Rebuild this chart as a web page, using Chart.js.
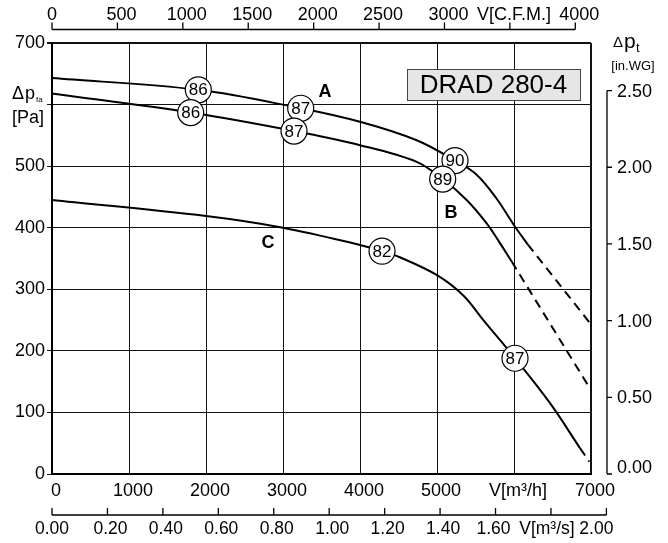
<!DOCTYPE html>
<html><head><meta charset="utf-8">
<script src="https://cdn.jsdelivr.net/npm/chart.js@4.4.0/dist/chart.umd.min.js"></script>
<style>html,body{margin:0;padding:0;background:#fff;}#wrap{width:668px;height:543px;}</style>
</head><body><div id="wrap"><canvas id="c" width="668" height="543"></canvas></div>
<script>
// ---- data ----
const modelName = 'DRAD 280-4';
const xTicks = [0, 1000, 2000, 3000, 4000, 5000, 6000, 7000];
const yTicks = [0, 100, 200, 300, 400, 500, 600, 700];
const cfmTicks = [0, 500, 1000, 1500, 2000, 2500, 3000, 3500, 4000];
const m3sTicks = [0, 0.2, 0.4, 0.6, 0.8, 1.0, 1.2, 1.4, 1.6, 1.8, 2.0];
const inwgTicks = [0, 0.5, 1.0, 1.5, 2.0, 2.5];

const flowA = [0, 1900, 3230, 4000, 4736, 5234, 5515, 5775, 6000, 6178];
const pressA = [643, 624, 594, 572, 542, 509, 486, 447, 404, 373];
const flowAExt = [6178, 6987];
const pressAExt = [373, 245];

const flowB = [0, 1801, 3143, 4000, 4736, 5074, 5385, 5645, 5818, 5970];
const pressB = [618, 587, 557, 534, 507, 479, 445, 407, 375, 345];
const flowBExt = [5970, 6987];
const pressBExt = [345, 139];

const flowC = [0, 2000, 3000, 4000, 4286, 4519, 5000, 5342, 5602, 6013, 6468, 6857];
const pressC = [445, 419, 400, 372, 362, 352, 323, 290, 250, 188, 115, 42];
const flowCExt = [6857, 6978];
const pressCExt = [42, 20];

const markFlow = [1900, 3230, 5234, 1801, 3143, 5074, 4286, 6013];
const markPress = [624, 594, 509, 587, 557, 479, 362, 188];
const markText = ['86', '87', '90', '86', '87', '89', '82', '87'];

const letterFlow = [3545, 5182, 2805];
const letterPress = [620, 424, 375];
const letterText = ['A', 'B', 'C'];

const boxFlow = [4610, 6857];
const boxPress = [657, 606];

// unit conversions
const CFM_TO_M3H = 1.69901;
const M3S_TO_M3H = 3600;
const INWG_TO_PA = 249.089;

// ---- helpers ----
const FONT = '"Liberation Sans", Arial, Helvetica, sans-serif';
const pts = (xs, ys) => xs.map((v, i) => ({x: v, y: ys[i]}));
const curve = (xs, ys, dashed) => ({
  data: pts(xs, ys), borderColor: '#000', borderWidth: 2, pointRadius: 0,
  fill: false, order: 1, borderDash: dashed ? [9, 6] : [],
  cubicInterpolationMode: 'default', tension: dashed ? 0 : 0.35
});

const extras = {
  id: 'extras',
  beforeDatasetsDraw(chart) {
    const {ctx, scales: {x, y}} = chart;
    const bx0 = x.getPixelForValue(boxFlow[0]), bx1 = x.getPixelForValue(boxFlow[1]);
    const by0 = y.getPixelForValue(boxPress[0]), by1 = y.getPixelForValue(boxPress[1]);
    ctx.save();
    ctx.fillStyle = '#e6e6e6';
    ctx.fillRect(bx0, by0, bx1 - bx0, by1 - by0);
    ctx.strokeStyle = '#444'; ctx.lineWidth = 1;
    ctx.strokeRect(Math.round(bx0) + 0.5, Math.round(by0) + 0.5, Math.round(bx1 - bx0), Math.round(by1 - by0));
    ctx.fillStyle = '#000';
    ctx.font = '26px ' + FONT; ctx.textAlign = 'center'; ctx.textBaseline = 'middle';
    ctx.fillText(modelName, (bx0 + bx1) / 2, (by0 + by1) / 2 + 1);
    ctx.restore();
  },
  afterDatasetsDraw(chart) {
    const {ctx, chartArea: ca, scales: {x, y}} = chart;
    ctx.save();
    ctx.fillStyle = '#000'; ctx.strokeStyle = '#000';
    // efficiency numbers in circles
    const meta = chart.getDatasetMeta(0);
    ctx.font = '17px ' + FONT; ctx.textAlign = 'center'; ctx.textBaseline = 'middle';
    meta.data.forEach((p, i) => ctx.fillText(markText[i], p.x, p.y + 1));
    // curve letters
    ctx.font = 'bold 18px ' + FONT;
    letterText.forEach((t, i) => ctx.fillText(t, x.getPixelForValue(letterFlow[i]), y.getPixelForValue(letterPress[i])));

    ctx.lineWidth = 1.3;
    ctx.font = '18px ' + FONT;
    // top CFM axis
    const ty = ca.top - 13.5;
    ctx.beginPath();
    ctx.moveTo(x.getPixelForValue(cfmTicks[0] * CFM_TO_M3H), ty);
    ctx.lineTo(x.getPixelForValue(cfmTicks[cfmTicks.length - 1] * CFM_TO_M3H), ty);
    cfmTicks.forEach(v => { const px = x.getPixelForValue(v * CFM_TO_M3H); ctx.moveTo(px, ty); ctx.lineTo(px, ty - 7); });
    ctx.stroke();
    ctx.textBaseline = 'middle'; ctx.textAlign = 'center';
    cfmTicks.forEach(v => {
      const px = x.getPixelForValue(v * CFM_TO_M3H);
      const lbl = v === 3500 ? 'V[C.F.M.]' : String(v);
      ctx.fillText(lbl, px + (v === 0 ? 0 : 4), 15);
    });
    // bottom m3/s axis
    const by = ca.bottom + 41;
    ctx.beginPath();
    ctx.moveTo(x.getPixelForValue(m3sTicks[0] * M3S_TO_M3H), by);
    ctx.lineTo(x.getPixelForValue(m3sTicks[m3sTicks.length - 1] * M3S_TO_M3H), by);
    m3sTicks.forEach(v => { const px = x.getPixelForValue(v * M3S_TO_M3H); ctx.moveTo(px, by); ctx.lineTo(px, by - 7); });
    ctx.stroke();
    ctx.font = '17.5px ' + FONT;
    m3sTicks.forEach((v, i) => {
      const px = x.getPixelForValue(v * M3S_TO_M3H);
      let lbl = v.toFixed(2), dx = i === 0 ? 0 : 3;
      if (i === m3sTicks.length - 3) { dx = -2; }
      if (i === m3sTicks.length - 2) { lbl = 'V[m³/s]'; dx = -4; }
      if (i === m3sTicks.length - 1) { dx = -10; }
      ctx.fillText(lbl, px + dx, by + 14);
    });
    // right in.WG axis
    ctx.font = '18px ' + FONT;
    const rx = ca.right + 16;
    const yTop = y.getPixelForValue(inwgTicks[inwgTicks.length - 1] * INWG_TO_PA);
    const yBot = y.getPixelForValue(inwgTicks[0] * INWG_TO_PA);
    ctx.beginPath();
    ctx.moveTo(rx, yTop); ctx.lineTo(rx, yBot);
    inwgTicks.forEach(v => { const py = y.getPixelForValue(v * INWG_TO_PA); ctx.moveTo(rx, py); ctx.lineTo(rx + 5, py); });
    ctx.stroke();
    ctx.textAlign = 'left';
    inwgTicks.forEach((v, i) => {
      const py = y.getPixelForValue(v * INWG_TO_PA);
      ctx.fillText(v.toFixed(2), rx + 10, py + (i === 0 ? -6 : 1));
    });
    // right title
    ctx.textAlign = 'left'; ctx.textBaseline = 'alphabetic';
    ctx.font = '15px ' + FONT; ctx.fillText('Δ', 613, 47);
    ctx.font = '21px ' + FONT; ctx.fillText('p', 624, 48);
    ctx.font = '13px ' + FONT; ctx.fillText('t', 636, 52);
    ctx.textAlign = 'center'; ctx.textBaseline = 'middle';
    ctx.font = '13px ' + FONT; ctx.fillText('[in.WG]', 633, 66);
    // left title
    ctx.textAlign = 'left'; ctx.textBaseline = 'alphabetic';
    ctx.font = '18px ' + FONT; ctx.fillText('Δ', 12, 99);
    ctx.fillText('p', 25, 99);
    ctx.font = '8px ' + FONT; ctx.fillText('fa', 36, 102);
    ctx.textBaseline = 'middle';
    ctx.font = '18px ' + FONT; ctx.fillText('[Pa]', 12, 118);
    ctx.restore();
  }
};

Chart.defaults.font.family = FONT;
Chart.defaults.color = '#000';

new Chart(document.getElementById('c'), {
  type: 'line',
  data: {
    datasets: [
      { data: pts(markFlow, markPress), showLine: false, pointRadius: 13, pointHoverRadius: 13,
        pointBackgroundColor: '#fff', pointBorderColor: '#000', pointBorderWidth: 1.2, order: 0 },
      curve(flowA, pressA, false), curve(flowB, pressB, false), curve(flowC, pressC, false),
      curve(flowAExt, pressAExt, true), curve(flowBExt, pressBExt, true), curve(flowCExt, pressCExt, true)
    ]
  },
  options: {
    responsive: false, devicePixelRatio: 1, animation: false, events: [],
    layout: { padding: { top: 43, right: 77, left: 0, bottom: 0 } },
    plugins: { legend: { display: false }, tooltip: { enabled: false } },
    scales: {
      x: {
        type: 'linear', min: xTicks[0], max: xTicks[xTicks.length - 1],
        afterBuildTicks: s => { s.ticks = xTicks.map(v => ({value: v})); },
        afterFit: s => { s.height = 69; },
        ticks: { font: { size: 18 }, padding: 6, labelOffset: 4, maxRotation: 0, autoSkip: false,
          callback: v => v === 6000 ? 'V[m³/h]' : String(v) },
        grid: { color: '#111', lineWidth: c => (c.tick && c.tick.value === 7000 ? 2 : 1), drawTicks: false },
        border: { display: true, color: '#000', width: 2 }
      },
      y: {
        type: 'linear', min: yTicks[0], max: yTicks[yTicks.length - 1],
        afterBuildTicks: s => { s.ticks = yTicks.map(v => ({value: v})); },
        afterFit: s => { s.width = 52; },
        ticks: { font: { size: 18 }, padding: 2, autoSkip: false,
          callback: v => v === 600 ? '' : String(v) },
        grid: { color: '#111', lineWidth: c => (c.tick && c.tick.value === 700 ? 2 : 1), tickLength: 5 },
        border: { display: true, color: '#000', width: 2 }
      }
    }
  },
  plugins: [extras]
});
</script></body></html>
